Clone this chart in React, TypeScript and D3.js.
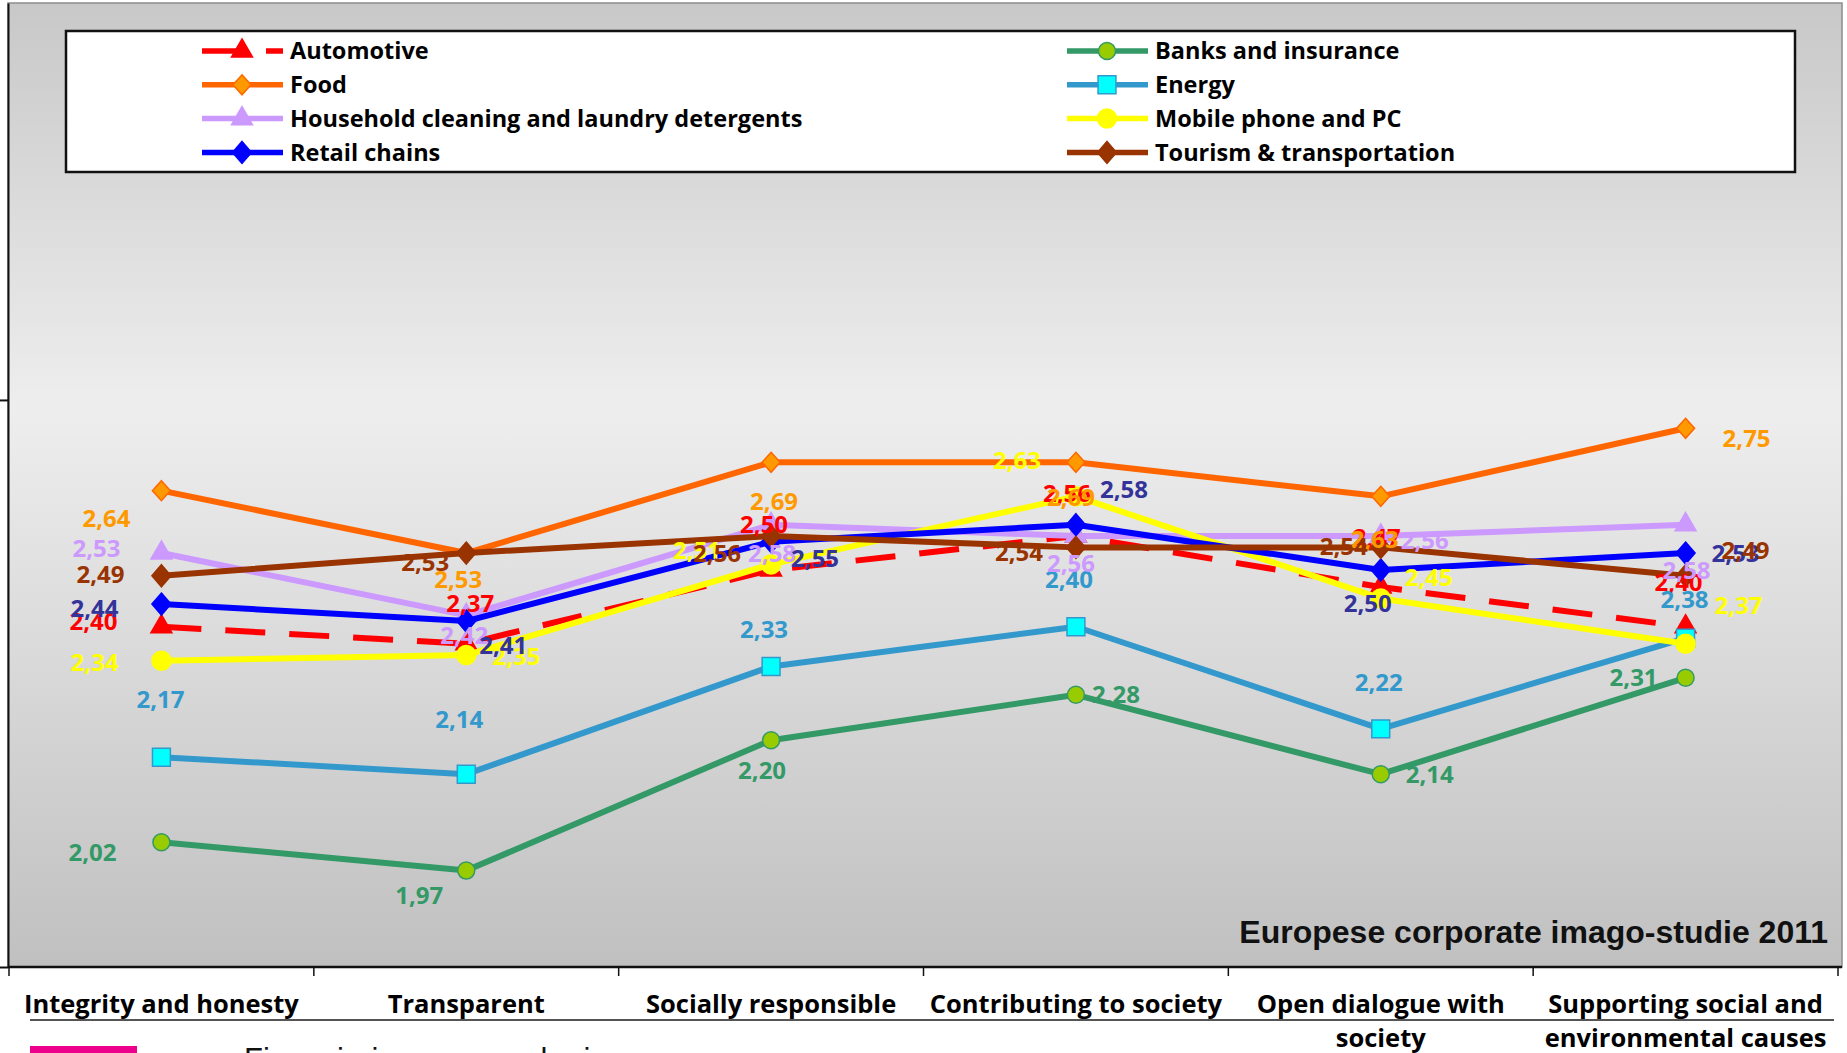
import React, { useEffect, useRef } from "react";
import * as d3 from "d3";

const categories = [
  "Integrity and honesty",
  "Transparent",
  "Socially responsible",
  "Contributing to society",
  "Open dialogue with society",
  "Supporting social and environmental causes",
];
const categoryLines = [
  ["Integrity and honesty"],
  ["Transparent"],
  ["Socially responsible"],
  ["Contributing to society"],
  ["Open dialogue with", "society"],
  ["Supporting social and", "environmental causes"],
];

const seriesNames = [
  "Automotive",
  "Banks and insurance",
  "Food",
  "Energy",
  "Household cleaning and laundry detergents",
  "Mobile phone and PC",
  "Retail chains",
  "Tourism & transportation",
];

const automotive = [2.4, 2.37, 2.5, 2.56, 2.47, 2.4];
const banks = [2.02, 1.97, 2.2, 2.28, 2.14, 2.31];
const food = [2.64, 2.53, 2.69, 2.69, 2.63, 2.75];
const energy = [2.17, 2.14, 2.33, 2.4, 2.22, 2.38];
const household = [2.53, 2.42, 2.58, 2.56, 2.56, 2.58];
const mobile = [2.34, 2.35, 2.51, 2.63, 2.45, 2.37];
const retail = [2.44, 2.41, 2.55, 2.58, 2.5, 2.53];
const tourism = [2.49, 2.53, 2.56, 2.54, 2.54, 2.49];

const yTicks = [1.8, 2.8];

// where Excel dropped each data label, relative to its marker (px)
const labelOffsets = [
  [[-68, -5], [4, -40], [-7, -46], [-9, -43], [-4, -50], [-7, -44]],
  [[-69, 10], [-47, 25], [-9, 30], [40, 0], [49, 0], [-52, 0]],
  [[-55, 28], [-8, 26], [3, 39], [-5, 35], [-6, 43], [61, 10]],
  [[-1, -58], [-7, -55], [-7, -37], [-7, -47], [-2, -46], [-1, -39]],
  [[-65, -5], [-2, 20], [1, 29], [-5, 27], [44, 4], [1, 46]],
  [[-67, 2], [50, 1], [-74, -14], [-59, -36], [48, -21], [53, -38]],
  [[-67, 4], [37, 24], [44, 17], [48, -35], [-13, 33], [50, 0]],
  [[-61, -1], [-41, 9], [-54, 17], [-57, 5], [-37, -1], [60, -25]],
];

const styles = [
  { line: "#ff0000", fill: "#ff0000", stroke: "#ff0000", label: "#ff0000", marker: "triangle", dash: "40 24" },
  { line: "#339966", fill: "#99cc00", stroke: "#339966", label: "#339966", marker: "circle", r: 8.5 },
  { line: "#ff6600", fill: "#ff9900", stroke: "#ff6600", label: "#ff9900", marker: "diamond", w: 9, h: 10 },
  { line: "#3399cc", fill: "#00ffff", stroke: "#3399cc", label: "#3399cc", marker: "square" },
  { line: "#cc99ff", fill: "#cc99ff", stroke: "#cc99ff", label: "#cc99ff", marker: "triangle" },
  { line: "#ffff00", fill: "#ffff00", stroke: "#ffff00", label: "#ffff00", marker: "circle", r: 9.5 },
  { line: "#0000ff", fill: "#0000ff", stroke: "#0000ff", label: "#333399", marker: "diamond", w: 9.5, h: 11 },
  { line: "#993300", fill: "#993300", stroke: "#993300", label: "#993300", marker: "diamond", w: 9.5, h: 11 },
];

const W = 1847;
const H = 1053;
const plot = { left: 8, right: 1842, top: 3, bottom: 967 };
const FONT = "'Open Sans', Lato, sans-serif";

function markerPath(st: any) {
  if (st.marker === "triangle") return d3.symbol(d3.symbolTriangle, 190)()!;
  if (st.marker === "square") return d3.symbol(d3.symbolSquare, 320)()!;
  if (st.marker === "circle") return d3.symbol(d3.symbolCircle, Math.PI * st.r * st.r)()!;
  const p = d3.path();
  p.moveTo(0, -st.h);
  p.lineTo(st.w, 0);
  p.lineTo(0, st.h);
  p.lineTo(-st.w, 0);
  p.closePath();
  return p.toString();
}

export default function App() {
  const yAxisRef = useRef<SVGGElement | null>(null);
  const series = [automotive, banks, food, energy, household, mobile, retail, tourism];

  const x = d3.scaleBand().domain(categories).range([9, 1838]);
  const y = d3.scaleLinear().domain([1.8, 3.5]).range([plot.bottom, plot.top]);
  const cx = (i: number) => x(categories[i])! + x.bandwidth() / 2;
  const fmt = (v: number) => d3.format(".2f")(v).replace(".", ",");

  const line = d3
    .line<number>()
    .x((_, i) => cx(i))
    .y((d) => y(d));

  useEffect(() => {
    document.body.style.margin = "0";
    const g = d3.select(yAxisRef.current);
    g.selectAll("*").remove();
    g.call(
      d3
        .axisLeft(y)
        .tickValues(yTicks)
        .tickSize(8)
        .tickSizeOuter(0)
        .tickFormat(() => "")
    );
    g.selectAll(".domain, .tick line").attr("stroke", "#111").attr("stroke-width", 2);
  }, []);

  const boundaries = d3.range(categories.length + 1).map((i) => 9 + i * x.step());

  return (
    <svg
      width={W}
      height={H}
      style={{ position: "absolute", left: 0, top: 0, display: "block", background: "#fff" }}
    >
      <defs>
        <linearGradient id="bg" x1="0" y1="0" x2="0" y2="1">
          <stop offset="0" stopColor="#c8c8c8" />
          <stop offset="0.42" stopColor="#eeeeee" />
          <stop offset="1" stopColor="#c0c0c0" />
        </linearGradient>
      </defs>

      <rect
        x={plot.left}
        y={plot.top}
        width={plot.right - plot.left}
        height={plot.bottom - plot.top}
        fill="url(#bg)"
        stroke="#8c8c8c"
        strokeWidth={1.5}
      />

      {/* legend */}
      <rect x={66} y={31} width={1729} height={141} fill="#fff" stroke="#111" strokeWidth={2.5} />
      {seriesNames.map((name, i) => {
        const st = styles[i];
        const x0 = i % 2 === 0 ? 202 : 1067;
        const ly = 51 + Math.floor(i / 2) * 33.8;
        return (
          <g key={name}>
            <line
              x1={x0}
              x2={x0 + 81}
              y1={ly}
              y2={ly}
              stroke={st.line}
              strokeWidth={5.5}
              strokeDasharray={st.dash}
            />
            <path
              d={markerPath(st)}
              transform={`translate(${x0 + 40},${ly})`}
              fill={st.fill}
              stroke={st.stroke}
              strokeWidth={1.5}
            />
            <text
              x={x0 + 88}
              y={ly}
              dy="0.36em"
              fontFamily={FONT}
              fontWeight={700}
              fontSize={23.5}
              fill="#000"
            >
              {name}
            </text>
          </g>
        );
      })}

      {/* series lines and markers */}
      {series.map((vals, s) => {
        const st = styles[s];
        return (
          <g key={seriesNames[s]}>
            <path
              d={line(vals)!}
              fill="none"
              stroke={st.line}
              strokeWidth={6}
              strokeDasharray={st.dash}
              strokeLinejoin="round"
            />
            {vals.map((v, i) => (
              <path
                key={i}
                d={markerPath(st)}
                transform={`translate(${cx(i)},${y(v)})`}
                fill={st.fill}
                stroke={st.stroke}
                strokeWidth={1.5}
              />
            ))}
          </g>
        );
      })}

      {/* data labels */}
      {series.map((vals, s) => (
        <g key={"lab" + s}>
          {vals.map((v, i) => (
            <text
              key={i}
              x={cx(i) + labelOffsets[s][i][0]}
              y={y(v) + labelOffsets[s][i][1]}
              dy="0.36em"
              textAnchor="middle"
              fontFamily={FONT}
              fontWeight={700}
              fontSize={24}
              fill={styles[s].label}
            >
              {fmt(v)}
            </text>
          ))}
        </g>
      ))}

      <text
        x={1828}
        y={943}
        textAnchor="end"
        fontFamily="'Liberation Sans', Arial, sans-serif"
        fontWeight={700}
        fontSize={32}
        fill="#111"
      >
        Europese corporate imago-studie 2011
      </text>

      {/* axes */}
      <g ref={yAxisRef} transform={`translate(${plot.left},0)`} />
      <line x1={plot.left} x2={plot.right} y1={plot.bottom} y2={plot.bottom} stroke="#111" strokeWidth={2.5} />
      {boundaries.map((bx, i) => (
        <line key={i} x1={bx} x2={bx} y1={plot.bottom} y2={plot.bottom + 9} stroke="#111" strokeWidth={1.5} />
      ))}
      {categoryLines.map((lines, i) => (
        <text
          key={i}
          x={cx(i)}
          y={1013}
          textAnchor="middle"
          fontFamily={FONT}
          fontWeight={700}
          fontSize={25.5}
          fill="#000"
        >
          {lines.map((t, j) => (
            <tspan key={j} x={cx(i)} dy={j === 0 ? 0 : 34}>
              {t}
            </tspan>
          ))}
        </text>
      ))}

      {/* bits of the next element, cut off by the frame */}
      <line x1={30} x2={1834} y1={1020} y2={1020} stroke="#555" strokeWidth={2} />
      <rect x={30} y={1046} width={107} height={20} fill="#ec008c" />
      <text x={244} y={1070} fontFamily="'Liberation Sans', Arial, sans-serif" fontSize={31} fill="#111">
        Financiering en verzekering
      </text>
    </svg>
  );
}
